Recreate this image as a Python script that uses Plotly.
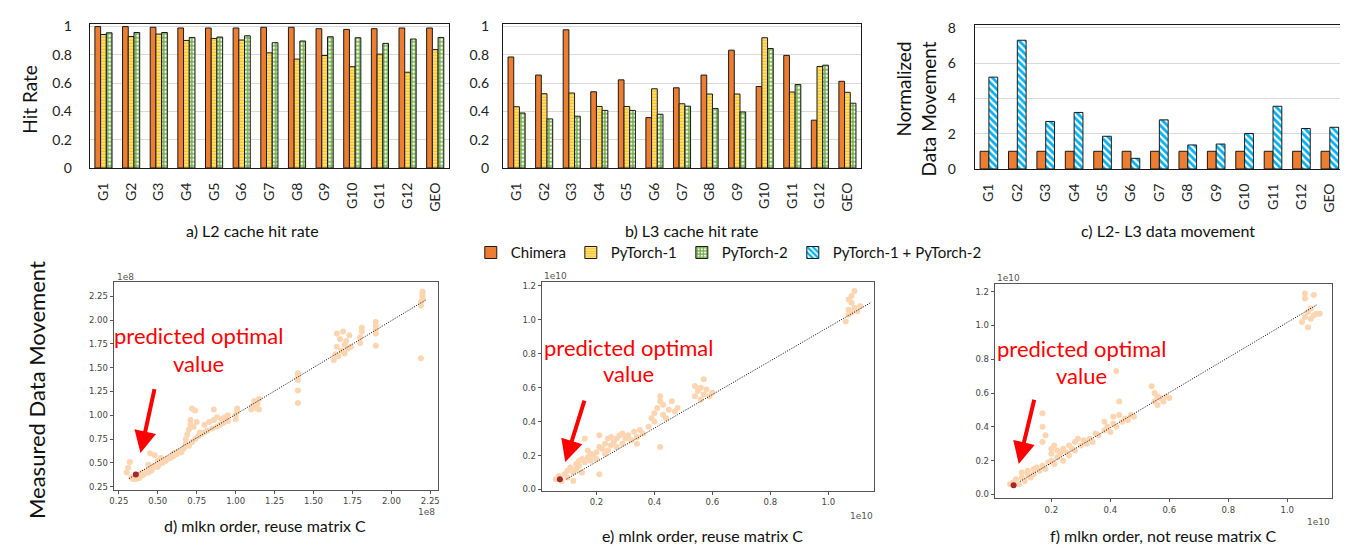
import plotly.graph_objects as go

W, H = 1348, 548

# ---------------- data ----------------
groups = ["G1", "G2", "G3", "G4", "G5", "G6", "G7", "G8", "G9", "G10", "G11", "G12", "GEO"]

l2_chimera = [1.0, 1.0, 0.995, 0.99, 0.99, 0.99, 0.995, 0.995, 0.985, 0.98, 0.985, 0.99, 0.99]
l2_pytorch1 = [0.944, 0.93, 0.947, 0.902, 0.916, 0.905, 0.814, 0.77, 0.795, 0.716, 0.805, 0.677, 0.837]
l2_pytorch2 = [0.956, 0.958, 0.958, 0.923, 0.926, 0.935, 0.886, 0.898, 0.928, 0.921, 0.881, 0.912, 0.923]

l3_chimera = [0.785, 0.657, 0.977, 0.539, 0.623, 0.356, 0.567, 0.657, 0.833, 0.576, 0.796, 0.338, 0.613]
l3_pytorch1 = [0.433, 0.525, 0.530, 0.435, 0.435, 0.56, 0.454, 0.523, 0.523, 0.921, 0.537, 0.718, 0.535]
l3_pytorch2 = [0.389, 0.347, 0.366, 0.407, 0.407, 0.38, 0.437, 0.421, 0.396, 0.845, 0.59, 0.727, 0.458]

dm_chimera = [1, 1, 1, 1, 1, 1, 1, 1, 1, 1, 1, 1, 1]
dm_pytorch12 = [5.2, 7.29, 2.69, 3.2, 1.85, 0.6, 2.78, 1.36, 1.41, 2.01, 3.55, 2.29, 2.36]

# d) mlkn order, reuse matrix C  (units 1e8)
d_x = [0.30, 0.31, 0.32, 0.33, 0.34, 0.36, 0.37, 0.38, 0.39, 0.40, 0.40, 0.41, 0.42, 0.43, 0.44, 0.44,
       0.45, 0.45, 0.46, 0.47, 0.48, 0.48, 0.50, 0.50, 0.51, 0.52, 0.53, 0.55, 0.56, 0.58, 0.60, 0.60,
       0.62, 0.63, 0.65, 0.66, 0.67, 0.68, 0.68, 0.69, 0.70, 0.70, 0.71, 0.71, 0.72, 0.72, 0.73, 0.74,
       0.74, 0.75, 0.76, 0.77, 0.78, 0.80, 0.80, 0.82, 0.83, 0.85, 0.86, 0.86, 0.88, 0.88, 0.90, 0.91,
       0.92, 0.93, 0.95, 0.95, 1.00, 1.00, 1.01, 1.01, 1.10, 1.11, 1.12, 1.13, 1.14, 1.15, 1.15,
       1.40, 1.40, 1.40, 1.40, 1.40, 1.63, 1.64, 1.65, 1.65, 1.66, 1.67, 1.68, 1.69, 1.70, 1.70, 1.71,
       1.72, 1.73, 1.74, 1.80, 1.80, 1.81, 1.81, 1.90, 1.90, 1.90, 1.90, 1.90,
       2.19, 2.19, 2.19, 2.20, 2.20, 2.20, 2.20]
d_y = [0.40, 0.45, 0.51, 0.35, 0.33, 0.33, 0.35, 0.34, 0.36, 0.37, 0.40, 0.38, 0.39, 0.41, 0.40, 0.48,
       0.43, 0.60, 0.42, 0.45, 0.47, 0.58, 0.46, 0.52, 0.49, 0.55, 0.50, 0.52, 0.54, 0.55, 0.57, 0.60,
       0.59, 0.62, 0.61, 0.64, 0.66, 0.70, 0.75, 0.80, 0.68, 0.85, 0.90, 0.95, 1.07, 0.72, 0.88, 0.75,
       1.05, 0.93, 0.78, 0.82, 0.80, 0.82, 0.90, 0.84, 0.93, 0.86, 1.06, 0.95, 0.88, 0.98, 0.90, 0.96,
       0.92, 0.98, 0.94, 1.00, 0.96, 1.00, 1.04, 1.07, 1.06, 1.10, 1.15, 1.08, 1.12, 1.17, 1.06,
       1.13, 1.26, 1.37, 1.41, 1.44, 1.58, 1.64, 1.72, 1.86, 1.62, 1.80, 1.68, 1.88, 1.65, 1.74, 1.78,
       1.70, 1.84, 1.72, 1.76, 1.82, 1.88, 1.92, 1.73, 1.86, 1.90, 1.94, 1.98,
       1.60, 2.15, 2.19, 2.22, 2.25, 2.28, 2.30]
d_fit_x = [0.316, 2.227]
d_fit_y = [0.335, 2.217]
d_opt_x = [0.359]
d_opt_y = [0.377]

# e) mlnk order, reuse matrix C  (units 1e10)
e_x = [0.06, 0.07, 0.08, 0.09, 0.10, 0.10, 0.11, 0.12, 0.12, 0.13, 0.13, 0.14, 0.14, 0.15, 0.15, 0.16,
       0.16, 0.17, 0.17, 0.18, 0.18, 0.19, 0.20, 0.20, 0.21, 0.21, 0.21, 0.22, 0.23, 0.23, 0.24, 0.24,
       0.25, 0.25, 0.26, 0.27, 0.27, 0.28, 0.29, 0.29, 0.30, 0.31, 0.32, 0.33, 0.34, 0.34, 0.35, 0.36,
       0.38, 0.39, 0.40, 0.40, 0.41, 0.42, 0.42, 0.42, 0.43, 0.43, 0.44, 0.45, 0.46, 0.47, 0.48,
       0.54, 0.54, 0.55, 0.56, 0.56, 0.57, 0.57, 0.58, 0.59, 0.60,
       1.06, 1.07, 1.07, 1.07, 1.08, 1.08, 1.08, 1.09, 1.09, 1.10, 1.11]
e_y = [0.06, 0.08, 0.05, 0.09, 0.07, 0.11, 0.13, 0.10, 0.05, 0.15, 0.12, 0.17, 0.14, 0.18, 0.10, 0.30,
       0.16, 0.23, 0.19, 0.17, 0.21, 0.20, 0.22, 0.18, 0.32, 0.25, 0.09, 0.24, 0.21, 0.27, 0.30, 0.23,
       0.26, 0.31, 0.28, 0.25, 0.30, 0.32, 0.27, 0.33, 0.30, 0.32, 0.29, 0.34, 0.31, 0.27, 0.35, 0.33,
       0.37, 0.42, 0.40, 0.45, 0.48, 0.55, 0.52, 0.25, 0.44, 0.50, 0.42, 0.47, 0.52, 0.46, 0.48,
       0.55, 0.61, 0.58, 0.53, 0.60, 0.56, 0.65, 0.59, 0.55, 0.57,
       0.99, 1.03, 1.06, 1.12, 1.10, 1.14, 1.04, 1.17, 1.07, 1.05, 1.08]
e_fit_x = [0.097, 1.149]
e_fit_y = [0.061, 1.104]
e_opt_x = [0.074]
e_opt_y = [0.061]

# f) mlkn order, not reuse matrix C  (units 1e10)
f_x = [0.06, 0.07, 0.08, 0.09, 0.10, 0.10, 0.11, 0.12, 0.12, 0.13, 0.14, 0.14, 0.15, 0.16, 0.17, 0.17,
       0.18, 0.17, 0.17, 0.18, 0.19, 0.20, 0.20, 0.20, 0.21, 0.21, 0.22, 0.22, 0.23, 0.24, 0.24, 0.25,
       0.26, 0.26, 0.27, 0.28, 0.28, 0.29, 0.30, 0.31, 0.32, 0.33, 0.34, 0.35, 0.36, 0.38, 0.38, 0.39,
       0.40, 0.41, 0.41, 0.42, 0.42, 0.43, 0.43, 0.44, 0.45, 0.46, 0.47, 0.48,
       0.54, 0.55, 0.55, 0.56, 0.56, 0.57, 0.58, 0.59, 0.60,
       1.05, 1.06, 1.06, 1.06, 1.07, 1.07, 1.08, 1.08, 1.09, 1.09, 1.10, 1.11]
f_y = [0.06, 0.07, 0.09, 0.06, 0.10, 0.13, 0.08, 0.12, 0.14, 0.10, 0.15, 0.12, 0.16, 0.14, 0.48, 0.40,
       0.35, 0.31, 0.17, 0.15, 0.19, 0.20, 0.27, 0.24, 0.18, 0.29, 0.22, 0.26, 0.24, 0.20, 0.27, 0.25,
       0.23, 0.29, 0.27, 0.31, 0.26, 0.33, 0.29, 0.32, 0.30, 0.33, 0.31, 0.36, 0.35, 0.43, 0.38, 0.40,
       0.37, 0.42, 0.46, 0.73, 0.40, 0.55, 0.47, 0.43, 0.45, 0.44, 0.47, 0.46,
       0.64, 0.60, 0.55, 0.58, 0.53, 0.57, 0.55, 0.58, 0.57,
       1.02, 1.19, 1.16, 1.05, 0.99, 1.08, 1.04, 1.10, 1.18, 1.06, 1.07, 1.07]
f_fit_x = [0.094, 1.101]
f_fit_y = [0.077, 1.123]
f_opt_x = [0.072]
f_opt_y = [0.054]

# ---------------- styles ----------------
FONT = "Lato"
ORANGE = "#ED7D31"
YELLOW = "#FFC000"
GREEN = "#70AD47"
BLUE = "#00B0F0"
OUTLINE = "#1a1a1a"
PEACH = "#FDD5B1"
OPT = "#A52A2A"


def px_x(p):
    return p / W


def px_y(p):
    return 1 - p / H


fig = go.Figure()


def bar(x, y, name, axis, style, show):
    xa, ya = axis
    marker = dict(line=dict(color=OUTLINE, width=1))
    if style == "solid":
        marker["color"] = ORANGE
    elif style == "hstripe":
        marker["color"] = "white"
        marker["pattern"] = dict(shape="-", fgcolor=YELLOW, bgcolor="white", size=3,
                                 solidity=0.67, fgopacity=1)
    elif style == "check":
        marker["color"] = "white"
        marker["pattern"] = dict(shape="+", fgcolor=GREEN, bgcolor="white", size=4,
                                 solidity=0.65, fgopacity=1)
    elif style == "diag":
        marker["color"] = "white"
        marker["pattern"] = dict(shape="\\", fgcolor=BLUE, bgcolor="white", size=5,
                                 solidity=0.55, fgopacity=1)
    fig.add_trace(go.Bar(x=x, y=y, name=name, xaxis=xa, yaxis=ya, marker=marker,
                         showlegend=show, legendgroup=name))


bar(groups, l2_chimera, "Chimera", ("x", "y"), "solid", True)
bar(groups, l2_pytorch1, "PyTorch-1", ("x", "y"), "hstripe", True)
bar(groups, l2_pytorch2, "PyTorch-2", ("x", "y"), "check", True)
bar(groups, l3_chimera, "Chimera", ("x2", "y2"), "solid", False)
bar(groups, l3_pytorch1, "PyTorch-1", ("x2", "y2"), "hstripe", False)
bar(groups, l3_pytorch2, "PyTorch-2", ("x2", "y2"), "check", False)
bar(groups, dm_chimera, "Chimera", ("x3", "y3"), "solid", False)
bar(groups, dm_pytorch12, "PyTorch-1 + PyTorch-2", ("x3", "y3"), "diag", True)


def scatter_panel(xs, ys, fx, fy, ox, oy, xa, ya):
    fig.add_trace(go.Scatter(x=xs, y=ys, mode="markers", xaxis=xa, yaxis=ya, showlegend=False,
                             marker=dict(size=6, color=PEACH, line=dict(width=0))))
    fig.add_trace(go.Scatter(x=fx, y=fy, mode="lines", xaxis=xa, yaxis=ya, showlegend=False,
                             line=dict(color="black", width=1, dash="1px,1.5px")))
    fig.add_trace(go.Scatter(x=ox, y=oy, mode="markers", xaxis=xa, yaxis=ya, showlegend=False,
                             marker=dict(size=6, color=OPT, line=dict(width=0))))


scatter_panel(d_x, d_y, d_fit_x, d_fit_y, d_opt_x, d_opt_y, "x4", "y4")
scatter_panel(e_x, e_y, e_fit_x, e_fit_y, e_opt_x, e_opt_y, "x5", "y5")
scatter_panel(f_x, f_y, f_fit_x, f_fit_y, f_opt_x, f_opt_y, "x6", "y6")

# ---------------- axes ----------------
bar_x = dict(tickangle=-90, showline=True, mirror=True, linecolor=OUTLINE, linewidth=1,
             ticks="", tickfont=dict(family=FONT, size=14, color="#222"), ticklabelstandoff=8,
             showgrid=False)
bar_y = dict(showline=True, mirror=True, linecolor=OUTLINE, linewidth=1, ticks="",
             showgrid=True, gridcolor="#D9D9D9", gridwidth=1, zeroline=False,
             tickfont=dict(family=FONT, size=14, color="#222"))

sc_ax = dict(showline=True, mirror=True, linecolor="#555", linewidth=1, ticks="outside",
             ticklen=3, tickcolor="#555", showgrid=False, zeroline=False,
             tickfont=dict(family="DejaVu Sans", size=8.5, color="#444"))

fig.update_layout(
    xaxis=dict(bar_x, domain=[px_x(78), px_x(439)], anchor="y"),
    yaxis=dict(bar_y, domain=[px_y(158), px_y(10)], range=[0, 1.02],
               tickvals=[0, 0.2, 0.4, 0.6, 0.8, 1.0], ticktext=["0", "0.2", "0.4", "0.6", "0.8", "1"],
               ticklabelstandoff=14, anchor="x"),
    xaxis2=dict(bar_x, domain=[px_x(493), px_x(853)], anchor="y2"),
    yaxis2=dict(bar_y, domain=[px_y(158), px_y(10)], range=[0, 1.02],
                tickvals=[0, 0.2, 0.4, 0.6, 0.8, 1.0], ticktext=["0", "0.2", "0.4", "0.6", "0.8", "1"],
                ticklabelstandoff=10, anchor="x2"),
    xaxis3=dict(bar_x, domain=[px_x(967), px_x(1338)], anchor="y3"),
    yaxis3=dict(bar_y, domain=[px_y(159), px_y(11)], range=[0, 8.17],
                tickvals=[0, 2, 4, 6, 8], ticklabelstandoff=15, anchor="x3"),
    xaxis4=dict(sc_ax, domain=[px_x(102), px_x(428)], range=[0.216, 2.30],
                tickvals=[0.25, 0.5, 0.75, 1.0, 1.25, 1.5, 1.75, 2.0, 2.25], tickformat=".2f", anchor="y4"),
    yaxis4=dict(sc_ax, domain=[px_y(488), px_y(275)], range=[0.22, 2.40],
                tickvals=[0.25, 0.5, 0.75, 1.0, 1.25, 1.5, 1.75, 2.0, 2.25], tickformat=".2f", anchor="x4"),
    xaxis5=dict(sc_ax, domain=[px_x(532), px_x(866)], range=[0.011, 1.158],
                tickvals=[0.2, 0.4, 0.6, 0.8, 1.0], tickformat=".1f", anchor="y5"),
    yaxis5=dict(sc_ax, domain=[px_y(489), px_y(275)], range=[-0.006, 1.223],
                tickvals=[0, 0.2, 0.4, 0.6, 0.8, 1.0, 1.2], tickformat=".1f", anchor="x5"),
    xaxis6=dict(sc_ax, domain=[px_x(987), px_x(1326)], range=[0.0076, 1.152],
                tickvals=[0.2, 0.4, 0.6, 0.8, 1.0], tickformat=".1f", anchor="y6"),
    yaxis6=dict(sc_ax, domain=[px_y(497), px_y(277)], range=[-0.023, 1.246],
                tickvals=[0, 0.2, 0.4, 0.6, 0.8, 1.0, 1.2], tickformat=".1f", anchor="x6"),
)

fig.update_layout(
    width=W, height=H, margin=dict(l=0, r=0, t=0, b=0),
    paper_bgcolor="white", plot_bgcolor="white",
    barmode="group", bargap=0.38, bargroupgap=0.0,
    font=dict(family=FONT, color="#111"),
    legend=dict(orientation="h", x=px_x(720), y=px_y(245), xanchor="center", yanchor="middle",
                font=dict(family=FONT, size=15, color="#111"), itemwidth=30,
                bgcolor="rgba(0,0,0,0)", traceorder="normal"),
)

ann = []


def text(px, py, s, size, angle=0, color="#111", family=FONT, xanchor="center", yanchor="middle", align="center"):
    ann.append(dict(x=px_x(px), y=px_y(py), xref="paper", yref="paper", text=s, showarrow=False,
                    textangle=angle, xanchor=xanchor, yanchor=yanchor, align=align,
                    font=dict(family=family, size=size, color=color)))


text(18, 88, "Hit Rate", 19, angle=-90)
text(908, 97, "Normalized<br>Data Movement", 19, angle=-90, align="right")
text(24, 386, "Measured Data Movement", 22, angle=-90)

text(242, 222, "a) L2 cache hit rate", 16)
text(683, 222, "b) L3 cache hit rate", 16)
text(1161, 222, "c) L2- L3 data movement", 16)
text(254, 525, "d) mlkn order, reuse matrix C", 16)
text(694, 535, "e) mlnk order, reuse matrix C", 16)
text(1157, 535, "f) mlkn order, not reuse matrix C", 16)

RED = "#FF0000"
text(187, 330, "predicted optimal", 22, color=RED)
text(187, 359, "value", 22, color=RED)
text(619, 342, "predicted optimal", 22, color=RED)
text(619, 369, "value", 22, color=RED)
text(1074, 343, "predicted optimal", 22, color=RED)
text(1074, 371, "value", 22, color=RED)

GREY = "#555"
text(103, 270, "1e8", 9, color=GREY, family="DejaVu Sans", xanchor="left")
text(427, 511, "1e8", 9, color=GREY, family="DejaVu Sans", xanchor="right")
text(532, 269, "1e10", 9, color=GREY, family="DejaVu Sans", xanchor="left")
text(867, 515, "1e10", 9, color=GREY, family="DejaVu Sans", xanchor="right")
text(987, 271, "1e10", 9, color=GREY, family="DejaVu Sans", xanchor="left")
text(1326, 521, "1e10", 9, color=GREY, family="DejaVu Sans", xanchor="right")

# red arrows pointing at the predicted optimal points
for (ox, oy, xa, ya, axp, ayp, so) in [
    (d_opt_x[0], d_opt_y[0], "x4", "y4", 19, -87, 22),
    (e_opt_x[0], e_opt_y[0], "x5", "y5", 25, -80, 18),
    (f_opt_x[0], f_opt_y[0], "x6", "y6", 21, -87, 22),
]:
    ann.append(dict(x=ox, y=oy, xref=xa, yref=ya, ax=axp, ay=ayp, axref="pixel", ayref="pixel",
                    showarrow=True, arrowhead=2, arrowsize=1.1, arrowwidth=4, arrowcolor=RED,
                    standoff=so, text=""))

fig.update_layout(annotations=ann)

fig.write_html("out.html")
